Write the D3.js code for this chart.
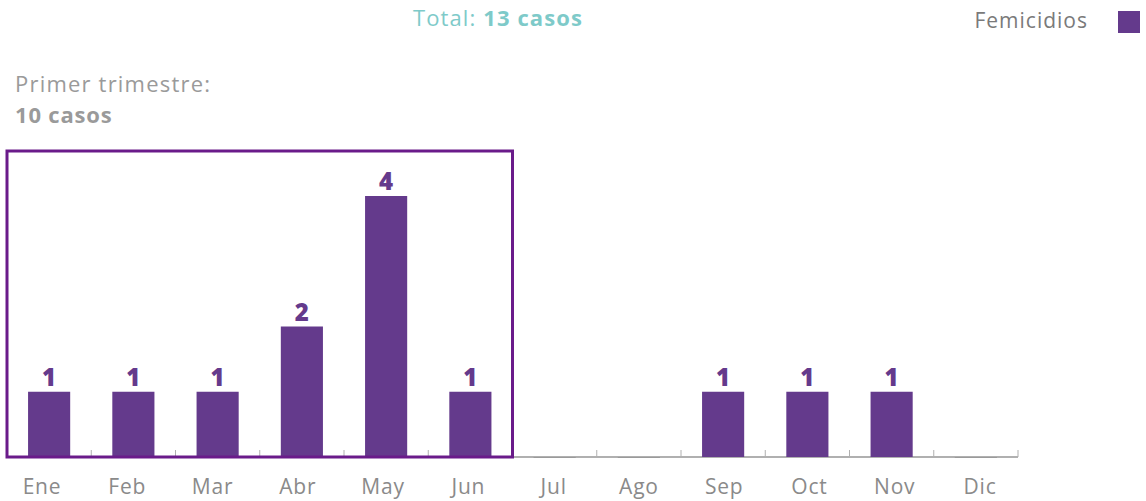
<!DOCTYPE html>
<html><head><meta charset="utf-8">
<script src="https://cdn.jsdelivr.net/npm/d3@7"></script>
<style>body{margin:0;background:#fff}svg{display:block}text{font-family:"Open Sans",sans-serif}</style>
</head><body><svg id="c" width="1146" height="501"></svg>
<script>
const months = ["Ene","Feb","Mar","Abr","May","Jun","Jul","Ago","Sep","Oct","Nov","Dic"];
const femicidios = [1,1,1,2,4,1,0,0,1,1,1,0];
const seriesName = "Femicidios";
const totalLabel = "13 casos";
const firstLabel = "Primer trimestre:";
const firstValue = "10 casos";
const highlighted = ["Ene","Feb","Mar","Abr","May","Jun"];

const svg = d3.select("#c");
const purple = "#643a8c";
const data = months.map((m,i)=>({m, v:femicidios[i]}));
const x = d3.scaleBand().domain(months).range([7,1018]).paddingInner(0.5).paddingOuter(0.25);
const xl = d3.scalePoint().domain(months).range([42,980]);
const y = d3.scaleLinear().domain([0,4]).range([457,196]);
const step = x.step();
const gap = (step-x.bandwidth())/2;

// axis
const ax = svg.append("g").attr("transform","translate(0,457)");
ax.append("line").attr("x1",7).attr("x2",1018).attr("stroke","#b0b0b0").attr("stroke-width",2);
ax.selectAll("line.t").data(months).enter().append("line")
  .attr("x1",d=>x(d)+x.bandwidth()+gap).attr("x2",d=>x(d)+x.bandwidth()+gap)
  .attr("y1",0).attr("y2",-7).attr("stroke","#b0b0b0").attr("stroke-width",1);
ax.selectAll("text").data(months).enter().append("text")
  .attr("x",d=>xl(d)).attr("y",37).attr("text-anchor","middle")
  .attr("fill","#8a8a8a").attr("font-size",21).attr("letter-spacing",0.8).text(d=>d);

// bars
svg.selectAll("rect.b").data(data).enter().append("rect")
  .attr("x",d=>x(d.m)).attr("width",x.bandwidth())
  .attr("y",d=>y(d.v)).attr("height",d=>Math.max(y(0)-y(d.v),1)).attr("fill",d=>d.v>0?purple:"#9a9a9a");
svg.selectAll("text.v").data(data.filter(d=>d.v>0)).enter().append("text")
  .attr("x",d=>x(d.m)+x.bandwidth()/2).attr("y",d=>y(d.v)-6)
  .attr("text-anchor","middle").attr("fill",purple).attr("font-size",24).attr("font-weight",800).text(d=>d.v);

// highlight box
const bx0 = x(highlighted[0]) - gap;
const bx1 = x(highlighted[highlighted.length-1]) + x.bandwidth() + gap;
svg.append("rect").attr("x",bx0).attr("y",151).attr("width",bx1-bx0).attr("height",457-151)
  .attr("fill","none").attr("stroke","#6a1b8a").attr("stroke-width",3);

// titles
const t = svg.append("text").attr("x",498).attr("y",26).attr("text-anchor","middle").attr("font-size",22).attr("letter-spacing",1.1).attr("fill","#7ecac9");
t.append("tspan").text("Total: ");
t.append("tspan").attr("font-weight",700).text(totalLabel);
svg.append("text").attr("x",15).attr("y",92).attr("font-size",22).attr("letter-spacing",1.2).attr("fill","#9a9a9a").text(firstLabel);
svg.append("text").attr("x",15).attr("y",123).attr("font-size",22).attr("letter-spacing",0.8).attr("font-weight",700).attr("fill","#9a9a9a").text(firstValue);

// legend
svg.append("text").attr("x",1088).attr("y",28).attr("text-anchor","end").attr("font-size",21).attr("letter-spacing",1).attr("fill","#7a7a7a").text(seriesName);
svg.append("rect").attr("x",1118).attr("y",11).attr("width",22).attr("height",22).attr("fill",purple);
</script></body></html>
